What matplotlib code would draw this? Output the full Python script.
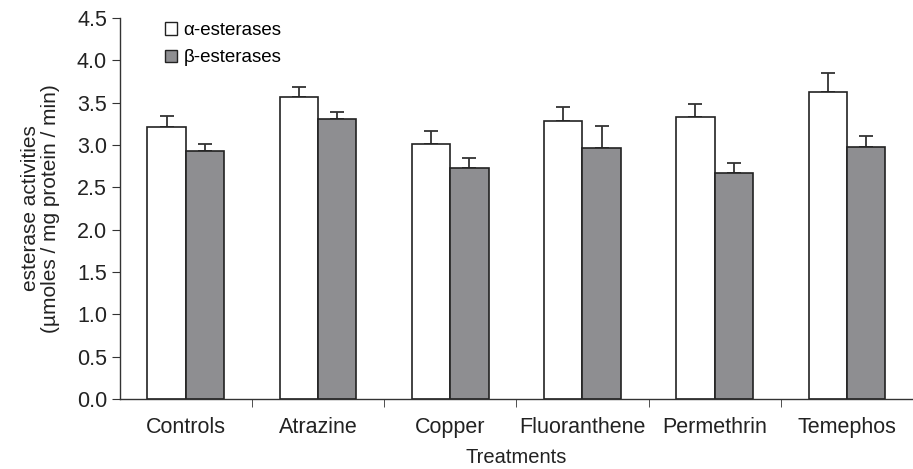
import numpy as np
import matplotlib
matplotlib.use('Agg')
import matplotlib.pyplot as plt
from matplotlib.patches import Patch

plt.rcParams['font.family'] = ['Liberation Sans', 'DejaVu Sans']

# data
treatments = ['Controls', 'Atrazine', 'Copper', 'Fluoranthene', 'Permethrin', 'Temephos']
alpha_vals = [3.21, 3.57, 3.01, 3.28, 3.33, 3.62]
alpha_err = [0.13, 0.11, 0.16, 0.17, 0.15, 0.23]
beta_vals = [2.93, 3.31, 2.73, 2.96, 2.67, 2.97]
beta_err = [0.08, 0.08, 0.11, 0.26, 0.12, 0.14]
series_labels = ['\u03b1-esterases', '\u03b2-esterases']
yticks = np.arange(0, 4.51, 0.5)

fig = plt.figure(figsize=(9.13, 4.69), dpi=100)
ax = fig.add_axes([0.131, 0.149, 0.869, 0.813])

x = np.arange(len(treatments))
w = 0.29
edge = '#222222'
grey = '#8e8e91'

ax.bar(x - w/2, alpha_vals, w, color='white', edgecolor=edge, linewidth=1.2, zorder=2)
ax.bar(x + w/2, beta_vals, w, color=grey, edgecolor=edge, linewidth=1.2, zorder=2)
# only upward error bars
ax.errorbar(x - w/2, alpha_vals, yerr=[np.zeros(len(x)), alpha_err], fmt='none',
            ecolor='#333333', elinewidth=1.3, capsize=5, capthick=1.3, zorder=1)
ax.errorbar(x + w/2, beta_vals, yerr=[np.zeros(len(x)), beta_err], fmt='none',
            ecolor='#333333', elinewidth=1.3, capsize=5, capthick=1.3, zorder=1)

ax.set_ylim(0, 4.5)
ax.set_yticks(yticks)
ax.set_yticklabels(['%.1f' % v for v in yticks], fontsize=15.5, color='#222222')
ax.set_xlim(-0.5, 5.41)
ax.set_xticks(x)
ax.set_xticklabels(treatments, fontsize=15.5, color='#222222')
ax.set_xticks(np.arange(0.5, 6, 1), minor=True)
ax.tick_params(axis='x', which='major', length=0, pad=13)
ax.tick_params(axis='x', which='minor', length=6, direction='out', color='#333333')
ax.tick_params(axis='y', length=6, direction='out', color='#333333', pad=3)

for s in ['top', 'right']:
    ax.spines[s].set_visible(False)
for s in ['left', 'bottom']:
    ax.spines[s].set_color('#333333')
    ax.spines[s].set_linewidth(1.0)

ax.set_xlabel('Treatments', fontsize=14.5, color='#222222', labelpad=7)
ax.set_ylabel('esterase activities\n(\u00b5moles / mg protein / min)', fontsize=15,
              color='#222222', labelpad=12, linespacing=1.1)

handles = [Patch(facecolor='white', edgecolor=edge, linewidth=1.0),
           Patch(facecolor=grey, edgecolor=edge, linewidth=1.0)]
ax.legend(handles, series_labels, loc='upper left', bbox_to_anchor=(0.1725, 0.969),
          bbox_transform=fig.transFigure, frameon=False, fontsize=13.5,
          handlelength=0.65, handleheight=0.65, handletextpad=0.35, labelspacing=0.55,
          borderaxespad=0)

fig.savefig('out.png', dpi=100)
